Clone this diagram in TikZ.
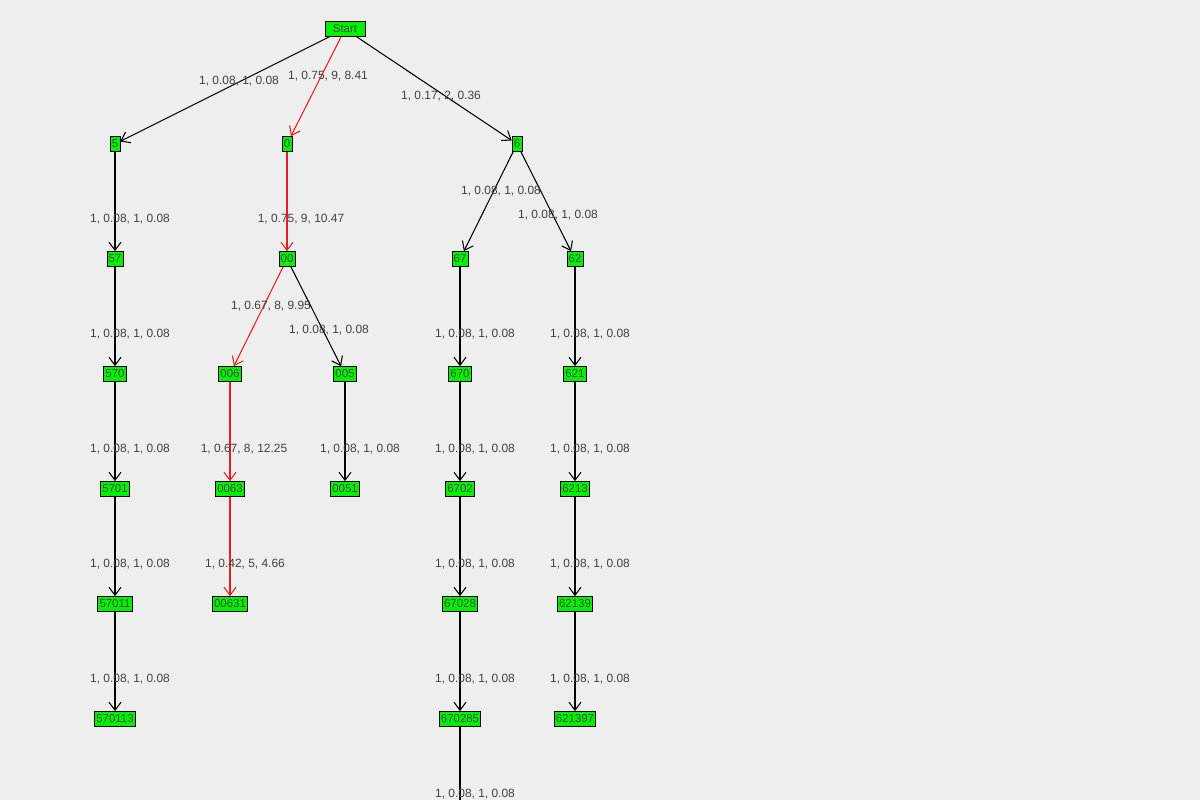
\documentclass[tikz,border=0pt]{standalone}
\usepackage{fontspec}
\setmainfont{Liberation Sans}
\usetikzlibrary{arrows.meta}
\definecolor{bgcol}{RGB}{238,238,238}
\definecolor{vgreen}{RGB}{0,240,0}
\definecolor{hotred}{RGB}{230,30,30}
\tikzset{
  vtx/.style={rectangle, draw=black, fill=vgreen, inner sep=1pt, minimum height=0.3cm, font=\fontsize{6.5}{7}\selectfont, text=black!70},
  lbl/.style={font=\fontsize{6.8}{8}\selectfont, text=black!75},
  edge/.style={-{Straight Barb[length=1.6mm,width=2.4mm]}, semithick},
  hot/.style={edge, draw=hotred}
}
\begin{document}
\begin{tikzpicture}[x=0.02cm, y=-0.02cm]
\fill[bgcol] (0,0) rectangle (1200,800);
\useasboundingbox (0,0) rectangle (1200,800);
% vertices
\node[vtx, minimum width=0.8cm] (start) at (345,29) {Start};
\node[vtx] (n5) at (115,144) {5};
\node[vtx] (n0) at (287,144) {0};
\node[vtx] (n6) at (517,144) {6};
\node[vtx] (n57) at (115,259) {57};
\node[vtx] (n00) at (287,259) {00};
\node[vtx] (n67) at (460,259) {67};
\node[vtx] (n62) at (575,259) {62};
\node[vtx] (n570) at (115,374) {570};
\node[vtx] (n006) at (230,374) {006};
\node[vtx] (n005) at (345,374) {005};
\node[vtx] (n670) at (460,374) {670};
\node[vtx] (n621) at (575,374) {621};
\node[vtx] (n5701) at (115,489) {5701};
\node[vtx] (n0063) at (230,489) {0063};
\node[vtx] (n0051) at (345,489) {0051};
\node[vtx] (n6702) at (460,489) {6702};
\node[vtx] (n6213) at (575,489) {6213};
\node[vtx] (n57011) at (115,604) {57011};
\node[vtx] (n00631) at (230,604) {00631};
\node[vtx] (n67028) at (460,604) {67028};
\node[vtx] (n62139) at (575,604) {62139};
\node[vtx] (n570113) at (115,719) {570113};
\node[vtx] (n670285) at (460,719) {670285};
\node[vtx] (n621397) at (575,719) {621397};
\coordinate (below) at (460,834);

% edges
\draw[edge] (start) -- (n5);
\draw[hot] (start) -- (n0);
\draw[edge] (start) -- (n6);
\draw[hot] (n0) -- (n00);
\draw[hot] (n00) -- (n006);
\draw[hot] (n006) -- (n0063);
\draw[hot] (n0063) -- (n00631);
\draw[edge] (n00) -- (n005);
\draw[edge] (n005) -- (n0051);
\draw[edge] (n5) -- (n57);
\draw[edge] (n57) -- (n570);
\draw[edge] (n570) -- (n5701);
\draw[edge] (n5701) -- (n57011);
\draw[edge] (n57011) -- (n570113);
\draw[edge] (n6) -- (n67);
\draw[edge] (n6) -- (n62);
\draw[edge] (n67) -- (n670);
\draw[edge] (n670) -- (n6702);
\draw[edge] (n6702) -- (n67028);
\draw[edge] (n67028) -- (n670285);
\draw[edge] (n670285) -- (below);
\draw[edge] (n62) -- (n621);
\draw[edge] (n621) -- (n6213);
\draw[edge] (n6213) -- (n62139);
\draw[edge] (n62139) -- (n621397);

% edge labels
\node[lbl] (l1) at (239,81) {1, 0.08, 1, 0.08};
\node[lbl] (l2) at (328,76) {1, 0.75, 9, 8.41};
\node[lbl] (l3) at (441,96) {1, 0.17, 2, 0.36};
\node[lbl] (l4) at (130,219) {1, 0.08, 1, 0.08};
\node[lbl] (l5) at (301,219) {1, 0.75, 9, 10.47};
\node[lbl] (l6) at (501,191) {1, 0.08, 1, 0.08};
\node[lbl] (l7) at (558,215) {1, 0.08, 1, 0.08};
\node[lbl] (l8) at (271,306) {1, 0.67, 8, 9.95};
\node[lbl] (l9) at (329,330) {1, 0.08, 1, 0.08};
\node[lbl] (l10) at (130,334) {1, 0.08, 1, 0.08};
\node[lbl] (l11) at (475,334) {1, 0.08, 1, 0.08};
\node[lbl] (l12) at (590,334) {1, 0.08, 1, 0.08};
\node[lbl] (l13) at (130,449) {1, 0.08, 1, 0.08};
\node[lbl] (l14) at (244,449) {1, 0.67, 8, 12.25};
\node[lbl] (l15) at (360,449) {1, 0.08, 1, 0.08};
\node[lbl] (l16) at (475,449) {1, 0.08, 1, 0.08};
\node[lbl] (l17) at (590,449) {1, 0.08, 1, 0.08};
\node[lbl] (l18) at (130,564) {1, 0.08, 1, 0.08};
\node[lbl] (l19) at (245,564) {1, 0.42, 5, 4.66};
\node[lbl] (l20) at (475,564) {1, 0.08, 1, 0.08};
\node[lbl] (l21) at (590,564) {1, 0.08, 1, 0.08};
\node[lbl] (l22) at (130,679) {1, 0.08, 1, 0.08};
\node[lbl] (l23) at (475,679) {1, 0.08, 1, 0.08};
\node[lbl] (l24) at (590,679) {1, 0.08, 1, 0.08};
\node[lbl] (l25) at (475,794) {1, 0.08, 1, 0.08};
\end{tikzpicture}
\end{document}
